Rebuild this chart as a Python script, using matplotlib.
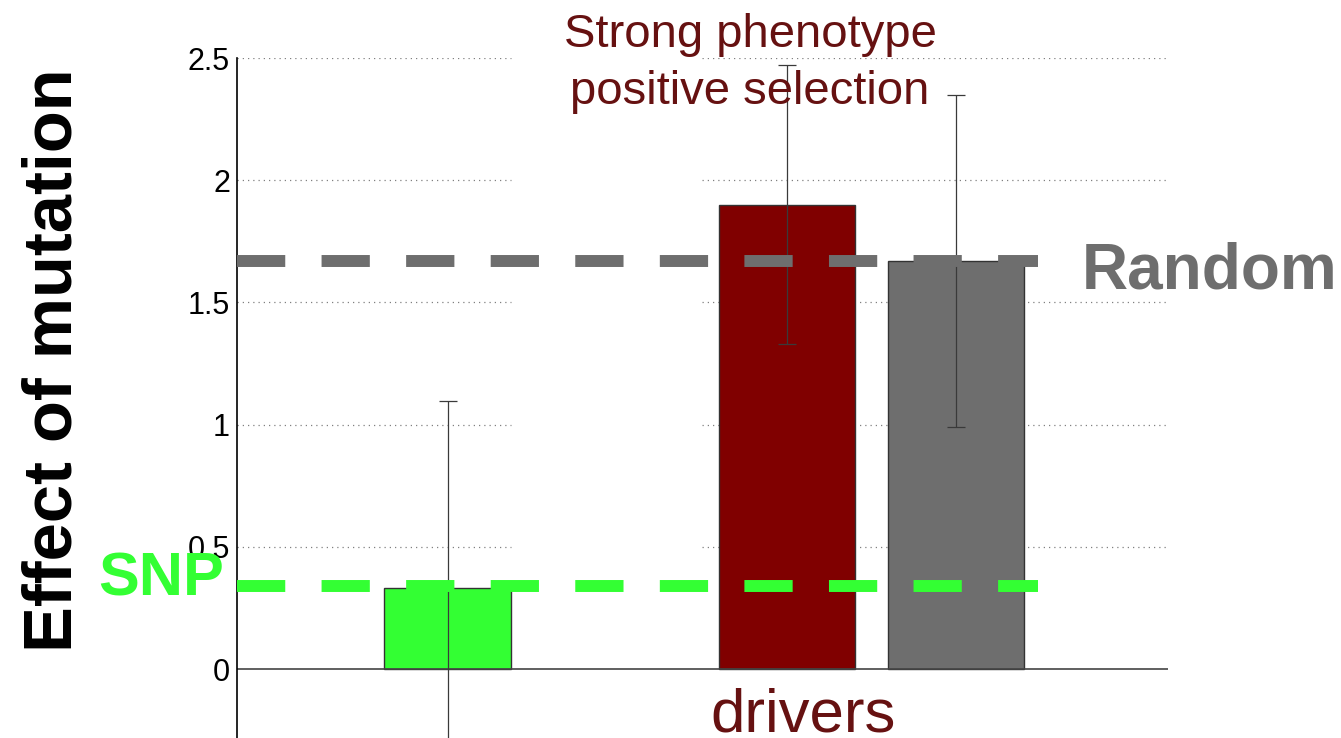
import numpy as np
import matplotlib.pyplot as plt
import matplotlib.transforms as mtransforms

plt.rcParams['font.family'] = ['Liberation Sans', 'DejaVu Sans']

# Values
bar_x = [1, 3, 4]
bar_heights = [0.33, 1.90, 1.67]
bar_errors = [0.765, 0.57, 0.68]
bar_widths = [0.75, 0.8, 0.8]
bar_colors = ['#33ff33', '#800000', '#6e6e6e']

snp_level = 0.34
random_level = 1.67

y_ticks = [0, 0.5, 1, 1.5, 2, 2.5]
y_tick_labels = ['0', '0.5', '1', '1.5', '2', '2.5']

# Layout
x_limits = (-0.245, 5.25)
y_limits = (-0.282, 2.5)
ref_line_end = 4.48
grid_gap = (bar_x[0] + bar_widths[0] / 2, (bar_x[0] + bar_x[2]) / 2)

text_red = '#661111'

fig = plt.figure(figsize=(13.41, 7.38), dpi=100)
ax = fig.add_axes([237 / 1341, 0, 931 / 1341, 1 - 58 / 738])
ax.set_xlim(*x_limits)
ax.set_ylim(*y_limits)

# dotted grid with a gap between the SNP bar and the drivers
for y in y_ticks[1:]:
    ax.hlines(y, x_limits[0], grid_gap[0], colors='#808080', linewidth=0.9,
              linestyles=(0, (1, 3.2)), zorder=0.5)
    ax.hlines(y, grid_gap[1], x_limits[1], colors='#808080', linewidth=0.9,
              linestyles=(0, (1, 3.2)), zorder=0.5)

# bars and error bars
ax.bar(bar_x, bar_heights, width=bar_widths, color=bar_colors,
       edgecolor='#333333', linewidth=1, zorder=2)
ax.axhline(0, color='#444444', linewidth=1.2, zorder=2.5)
ax.errorbar(bar_x, bar_heights, yerr=bar_errors, fmt='none', ecolor='#3a3a3a',
            elinewidth=0.9, capsize=6.5, capthick=0.9, zorder=3)

# reference levels
dash = (0, (4.04, 3.04))
ax.plot([x_limits[0], ref_line_end], [snp_level, snp_level], color='#33ff33',
        linewidth=8.6, linestyle=dash, zorder=4)
ax.plot([x_limits[0], ref_line_end], [random_level, random_level], color='#6e6e6e',
        linewidth=8.6, linestyle=dash, zorder=4)

blend = mtransforms.blended_transform_factory(ax.transAxes, ax.transData)
ax.text(-0.014, 0.30, 'SNP', transform=blend, ha='right', va='baseline',
        fontsize=44, fontweight='bold', color='#33ff33', zorder=5, clip_on=False)
ax.text(4.74, 1.559, 'Random', ha='left', va='baseline', fontsize=46,
        fontweight='bold', color='#6e6e6e', clip_on=False)

# axes styling
ax.set_yticks(y_ticks)
ax.set_yticklabels(y_tick_labels)
ax.set_xticks([])
ax.tick_params(axis='y', length=0, pad=5, labelsize=22)
for side in ['top', 'right', 'bottom']:
    ax.spines[side].set_visible(False)
ax.spines['left'].set_linewidth(1.2)

fig.text(750 / 1341, 1 - 13 / 738, 'Strong phenotype\npositive selection',
         ha='center', va='top', fontsize=34, color=text_red, linespacing=1.38)
fig.text(803.5 / 1341, 1 - 732 / 738, 'drivers', ha='center', va='baseline',
         fontsize=44.5, color=text_red)
fig.text(22 / 1341, 1 - 360 / 738, 'Effect of mutation', rotation=90, ha='left',
         va='center', fontsize=49.5, fontweight='bold', color='black')

fig.savefig('out.png', dpi=100)
